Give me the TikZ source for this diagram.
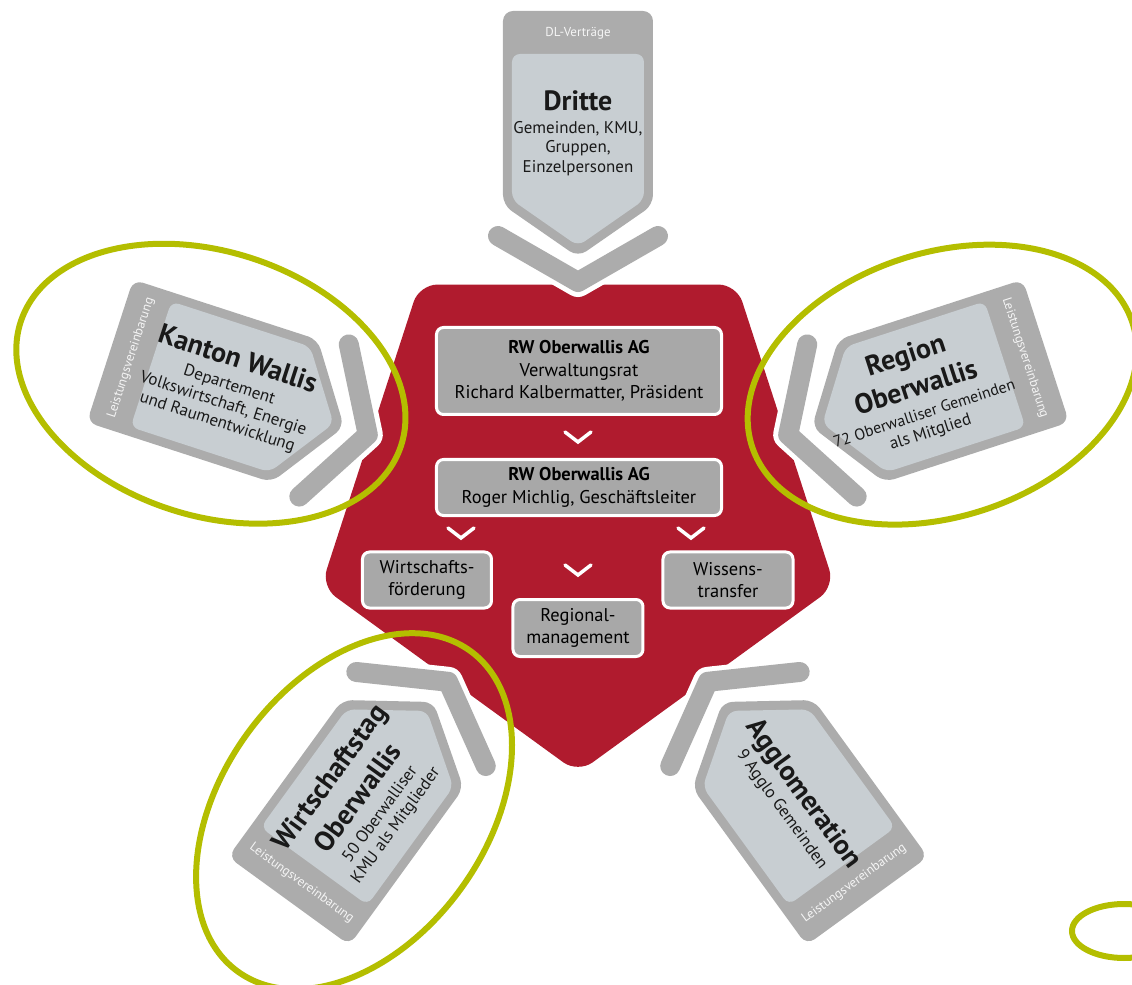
\documentclass[tikz,border=0pt]{standalone}
\usepackage{fontspec}
\setmainfont{PT Sans}
\usetikzlibrary{positioning}
\definecolor{rwred}{RGB}{176,27,46}
\definecolor{taggray}{RGB}{172,172,172}
\definecolor{tagface}{RGB}{200,206,210}
\definecolor{unitgray}{RGB}{168,168,168}
\definecolor{lime}{RGB}{180,190,0}
\tikzstyle{unit} = [draw=white, line width=3bp, fill=unitgray, rounded corners=7bp, align=center, inner sep=0pt, font=\fontsize{18.5}{22.5}\selectfont]
\tikzstyle{chev} = [draw=taggray, line width=20bp, line cap=round, line join=round]
\tikzstyle{chevgap} = [draw=white, line width=30bp, line cap=round, line join=round]
\tikzstyle{vmark} = [draw=white, line width=3.5bp, line cap=round]
\tikzstyle{ring} = [draw=lime, line width=6bp]
\tikzstyle{stripe} = [text=white!88!taggray, inner sep=0pt, font=\fontsize{13}{14}\selectfont]
\tikzstyle{tagtext} = [align=center, inner sep=0pt, text=black!90, font=\fontsize{17}{19.5}\selectfont]
\newcommand{\ttl}[1]{{\fontsize{28}{30}\selectfont\bfseries #1}}
\newcommand{\downmark}[1]{\draw[vmark, shift={#1}] (-13,5) -- (0,-5) -- (13,5);}
\newcommand{\partner}[7]{%
  \begin{scope}[rotate=#2]
    \draw[chevgap] (-80,267) -- (0,221) -- (80,267);
    \draw[chev] (-80,267) -- (0,221) -- (80,267);
    \fill[taggray, rounded corners=10bp] (0,246) -- (75,298) -- (75,492) -- (-75,492) -- (-75,298) -- cycle;
    \fill[tagface, rounded corners=8bp] (0,257) -- (66,303) -- (66,449) -- (-66,449) -- (-66,303) -- cycle;
    \node[stripe, rotate={#2+#4}] (#1-lv) at (0,470) {#6};
    \node[tagtext, rotate={#2+#3}] (#1) at (0,#5) {#7};
  \end{scope}}

\begin{document}
\begin{tikzpicture}[x=1bp, y=1bp]
    \useasboundingbox (-578,-482) rectangle (554,503);
    \fill[rwred, rounded corners=18bp] (126:270) -- (198:270) -- (270:270) -- (342:270) -- (54:270) -- cycle;

    \partner{dritte}{0}{0}{0}{370}{DL-Verträge}{\ttl{Dritte}\\[4bp]Gemeinden, KMU,\\Gruppen,\\Einzelpersonen}
    \partner{kanton}{72}{-90}{0}{368}{Leistungsvereinbarung}{\ttl{Kanton Wallis}\\[4bp]Departement\\Volkswirtschaft, Energie\\und Raumentwicklung}
    \partner{wtag}{144}{-90}{180}{368}{Leistungsvereinbarung}{\ttl{Wirtschaftstag}\\[8bp]\ttl{Oberwallis}\\[4bp]50 Oberwalliser\\KMU als Mitglieder}
    \partner{agglo}{216}{90}{180}{368}{Leistungsvereinbarung}{\ttl{Agglomeration}\\[4bp]9 Agglo Gemeinden}
    \partner{region}{-72}{90}{0}{357}{Leistungsvereinbarung}{\ttl{Region}\\[7bp]\ttl{Oberwallis}\\[4bp]\fontsize{16}{19}\selectfont 72 Oberwalliser Gemeinden\\als Mitglied}

    \node[unit, minimum width=285bp, minimum height=87bp] (rat) at (1,132) {\textbf{RW Oberwallis AG}\\Verwaltungsrat\\Richard Kalbermatter, Präsident};
    \node[unit, minimum width=285bp, minimum height=56bp, below=42bp of rat] (gl) {\textbf{RW Oberwallis AG}\\Roger Michlig, Geschäftsleiter};
    \node[unit, minimum width=129bp, minimum height=56bp] (wf) at (-151,-77) {Wirtschafts-\\förderung};
    \node[unit, minimum width=130bp, minimum height=56bp] (wt) at (150,-77) {Wissens-\\transfer};
    \node[unit, minimum width=130bp, minimum height=57bp] (rm) at (0,-125) {Regional-\\management};
    \downmark{(0,66)}
    \downmark{(-117,-30)}
    \downmark{(113,-30)}
    \downmark{(0,-67)}

    \draw[ring, rotate around={162:(162:386)}] (162:386) ellipse [x radius=200bp, y radius=132bp];
    \draw[ring, rotate around={18:(18:383)}] (18:383) ellipse [x radius=200bp, y radius=132bp];
    \draw[ring, rotate around={234:(234:381)}] (234:381) ellipse [x radius=198bp, y radius=132bp];
    \draw[ring] (546,-428) ellipse [x radius=52bp, y radius=27bp];
\end{tikzpicture}
\end{document}
